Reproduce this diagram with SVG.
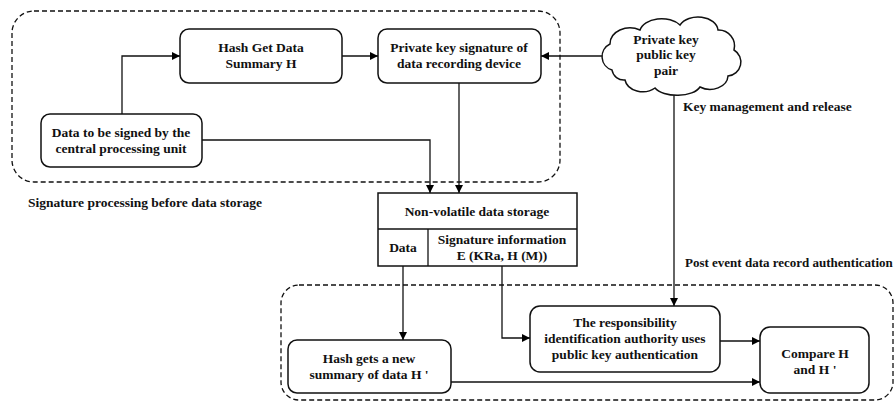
<svg xmlns="http://www.w3.org/2000/svg" width="895" height="401" viewBox="0 0 895 401">
  <defs>
    <marker id="arrow" viewBox="0 0 10 10" refX="10" refY="5" markerWidth="8" markerHeight="8" markerUnits="userSpaceOnUse" orient="auto">
      <path d="M0,0 L10,5 L0,10 Z" fill="#000"/>
    </marker>
    <style>
      text { font-family: "Liberation Serif", "Times New Roman", serif; font-weight: bold; font-size: 13.5px; fill: #111; }
      .c { text-anchor: middle; }
      .box { fill: #fff; stroke: #111; stroke-width: 1.5; }
      .group { fill: none; stroke: #111; stroke-width: 1.3; stroke-dasharray: 5 3; }
      .link { fill: none; stroke: #111; stroke-width: 1.3; marker-end: url(#arrow); }
      .plain { fill: none; stroke: #111; stroke-width: 1.3; }
    </style>
  </defs>
  <rect width="895" height="401" fill="#fff"/>

  <!-- dashed grouping frames -->
  <g id="group-signing">
    <rect class="group" x="12" y="11" width="548" height="171" rx="22"/>
    <text x="28" y="207">Signature processing before data storage</text>
  </g>
  <g id="group-authentication">
    <rect class="group" x="281" y="285" width="612" height="115" rx="18"/>
    <text x="685" y="267" style="font-size:13px">Post event data record authentication</text>
  </g>

  <!-- connectors -->
  <g id="connectors">
    <path class="link" d="M122,114 V56 H180"/>
    <path class="link" d="M342,56 H378"/>
    <path class="link" d="M602,56 H541"/>
    <path class="link" d="M202,140 H430 V193"/>
    <path class="link" d="M459,83 V193"/>
    <path class="link" d="M674,91 V306"/>
    <path class="link" d="M403,266 V340"/>
    <path class="link" d="M502,266 V338 H530"/>
    <path class="link" d="M720,341 H760"/>
    <path class="link" d="M451,382 H760"/>
    <text x="683" y="111">Key management and release</text>
  </g>

  <!-- nodes -->
  <g id="hash-summary">
    <rect class="box" x="180" y="29" width="162" height="54" rx="9"/>
    <text class="c" x="261" y="52">Hash Get Data</text>
    <text class="c" x="261" y="68">Summary H</text>
  </g>
  <g id="private-key-signature">
    <rect class="box" x="378" y="29" width="163" height="54" rx="9"/>
    <text class="c" x="459" y="52">Private key signature of</text>
    <text class="c" x="459" y="68">data recording device</text>
  </g>
  <g id="cpu-data">
    <rect class="box" x="41" y="114" width="161" height="53" rx="9"/>
    <text class="c" x="121" y="137">Data to be signed by the</text>
    <text class="c" x="121" y="153">central processing unit</text>
  </g>
  <g id="key-pair">
    <path class="box" d="M612,70 A14,14 0 0 1 610,44 A20,16 0 0 1 640,30 A22,14 0 0 1 680,25 A20,14 0 0 1 718,30 A16,16 0 0 1 734,50 A14,14 0 0 1 728,76 A18,14 0 0 1 700,87 A24,12 0 0 1 655,88 A18,14 0 0 1 625,80 A12,12 0 0 1 612,70 Z"/>
    <text class="c" x="666" y="44">Private key</text>
    <text class="c" x="666" y="59">public key</text>
    <text class="c" x="666" y="75">pair</text>
  </g>
  <g id="storage">
    <rect class="box" x="378" y="193" width="199" height="73" rx="0"/>
    <line class="plain" x1="378" y1="229" x2="577" y2="229"/>
    <line class="plain" x1="428" y1="229" x2="428" y2="266"/>
    <text class="c" x="477" y="216">Non-volatile data storage</text>
    <text class="c" x="403" y="252">Data</text>
    <text class="c" x="502" y="244">Signature information</text>
    <text class="c" x="502" y="260">E (KRa, H (M))</text>
  </g>
  <g id="hash-new-summary">
    <rect class="box" x="288" y="340" width="163" height="53" rx="9"/>
    <text class="c" x="369" y="363">Hash gets a new</text>
    <text class="c" x="369" y="379">summary of data H '</text>
  </g>
  <g id="authority">
    <rect class="box" x="530" y="306" width="190" height="66" rx="10"/>
    <text class="c" x="625" y="327">The responsibility</text>
    <text class="c" x="625" y="343">identification authority uses</text>
    <text class="c" x="625" y="359">public key authentication</text>
  </g>
  <g id="compare">
    <rect class="box" x="760" y="327" width="109" height="66" rx="10"/>
    <text class="c" x="815" y="358">Compare H</text>
    <text class="c" x="815" y="374">and H '</text>
  </g>
</svg>
